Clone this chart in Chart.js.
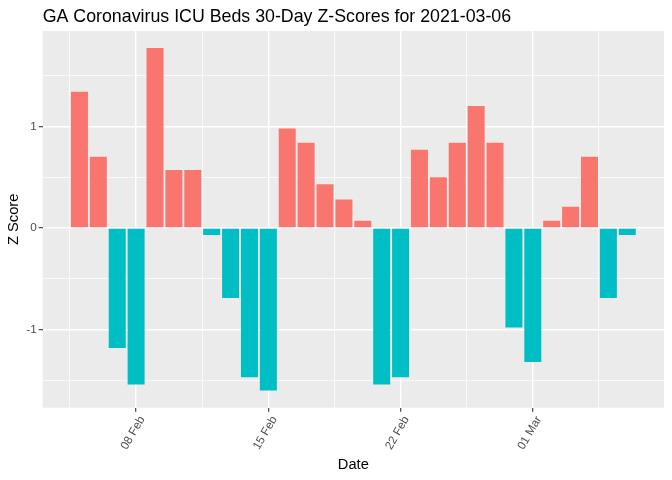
<!DOCTYPE html>
<html lang="en">
<head>
  <meta charset="UTF-8" />
  <title>GA Coronavirus ICU Beds Z-Scores</title>
  <style>
    * { margin: 0; padding: 0; box-sizing: border-box; }
    body { background: #fff; width: 672px; height: 480px; overflow: hidden; }
  </style>
</head>
<body>
  <canvas id="zChart" width="672" height="480"></canvas>
  <script src="https://cdn.jsdelivr.net/npm/chart.js"></script>
  <script>
    const dates = [
      '2021-02-05', '2021-02-06', '2021-02-07', '2021-02-08', '2021-02-09', '2021-02-10',
      '2021-02-11', '2021-02-12', '2021-02-13', '2021-02-14', '2021-02-15', '2021-02-16',
      '2021-02-17', '2021-02-18', '2021-02-19', '2021-02-20', '2021-02-21', '2021-02-22',
      '2021-02-23', '2021-02-24', '2021-02-25', '2021-02-26', '2021-02-27', '2021-02-28',
      '2021-03-01', '2021-03-02', '2021-03-03', '2021-03-04', '2021-03-05', '2021-03-06'
    ];
    const zScores = [
      1.34, 0.70, -1.18, -1.54, 1.77, 0.57,
      0.57, -0.07, -0.69, -1.47, -1.60, 0.98,
      0.84, 0.43, 0.28, 0.07, -1.54, -1.47,
      0.77, 0.50, 0.84, 1.20, 0.84, -0.98,
      -1.32, 0.07, 0.21, 0.70, -0.69, -0.07
    ];
    const tickDates = ['2021-02-08', '2021-02-15', '2021-02-22', '2021-03-01'];
    const tickLabels = ['08 Feb', '15 Feb', '22 Feb', '01 Mar'];
    const yTicks = [-1, 0, 1];
    const yMinor = [-1.5, -0.5, 0.5, 1.5];

    const titleText = 'GA Coronavirus ICU Beds 30-Day Z-Scores for 2021-03-06';
    const FONT = "'Liberation Sans', Arial, sans-serif";
    const DAY = 86400000;
    const toDay = s => Date.parse(s) / DAY;

    // ggplot style limits: bar half width 0.45, then 5% expansion
    const xs = dates.map(toDay);
    const xLo = Math.min(...xs) - 0.45, xHi = Math.max(...xs) + 0.45;
    const xPad = (xHi - xLo) * 0.05;
    const yLo = Math.min(0, ...zScores), yHi = Math.max(0, ...zScores);
    const yPad = (yHi - yLo) * 0.05;

    const majorX = tickDates.map(toDay);
    const minorX = majorX.map(v => v - 3.5).concat([majorX[majorX.length - 1] + 3.5]);

    const panelBg = {
      id: 'panelBg',
      beforeDraw(chart) {
        const { ctx, chartArea: a } = chart;
        ctx.save();
        ctx.fillStyle = '#ffffff';
        ctx.fillRect(0, 0, chart.width, chart.height);
        ctx.fillStyle = '#EBEBEB';
        ctx.fillRect(a.left, a.top, a.right - a.left, a.bottom - a.top);
        ctx.restore();
      },
      afterDraw(chart) {
        const { ctx, chartArea: a } = chart;
        ctx.save();
        ctx.fillStyle = '#000';
        ctx.font = '17.8px ' + FONT;
        ctx.textBaseline = 'alphabetic';
        ctx.fillText(titleText, a.left, 22.3);
        ctx.restore();
      }
    };

    const gridStyle = {
      offset: false,
      color: '#ffffff',
      lineWidth: c => (c.tick && c.tick.major ? 1.4 : 0.7),
      tickColor: c => (c.tick && c.tick.major ? '#333333' : 'rgba(0,0,0,0)'),
      tickWidth: 1.1,
      tickLength: 4
    };

    new Chart(document.getElementById('zChart'), {
      type: 'bar',
      data: {
        datasets: [{
          data: dates.map((d, i) => ({ x: toDay(d), y: zScores[i] })),
          backgroundColor: zScores.map(v => (v > 0 ? '#F8766D' : '#00BFC4')),
          borderWidth: 0,
          barPercentage: 0.9,
          categoryPercentage: 1.0
        }]
      },
      options: {
        responsive: false,
        animation: false,
        layout: { padding: { top: 31, right: 8, left: 0, bottom: 0 } },
        plugins: { legend: { display: false }, title: { display: false }, tooltip: { enabled: false } },
        scales: {
          x: {
            type: 'linear',
            offset: false,
            min: xLo - xPad,
            max: xHi + xPad,
            afterBuildTicks: s => {
              s.ticks = majorX.map(v => ({ value: v, major: true }))
                .concat(minorX.map(v => ({ value: v, major: false })))
                .sort((a, b) => a.value - b.value);
            },
            afterFit: s => { s.height = 72.3; },
            ticks: {
              autoSkip: false,
              minRotation: 60,
              maxRotation: 60,
              padding: 2,
              labelOffset: 6,
              color: '#4D4D4D',
              font: { family: FONT, size: 11.7 },
              callback: v => {
                const k = majorX.indexOf(v);
                return k >= 0 ? tickLabels[k] : '';
              }
            },
            grid: gridStyle,
            border: { display: false },
            title: {
              display: true,
              text: 'Date',
              color: '#000',
              font: { family: FONT, size: 14.7 },
              padding: { top: 0, bottom: 6 }
            }
          },
          y: {
            type: 'linear',
            min: yLo - yPad,
            max: yHi + yPad,
            afterBuildTicks: s => {
              s.ticks = yTicks.map(v => ({ value: v, major: true }))
                .concat(yMinor.map(v => ({ value: v, major: false })))
                .sort((a, b) => a.value - b.value);
            },
            afterFit: s => { s.width = 42.7; },
            ticks: {
              padding: 2,
              color: '#4D4D4D',
              font: { family: FONT, size: 11.7 },
              callback: v => (yTicks.includes(v) ? String(v) : '')
            },
            grid: gridStyle,
            border: { display: false },
            title: {
              display: true,
              text: 'Z Score',
              color: '#000',
              font: { family: FONT, size: 14.7 },
              padding: { top: 5, bottom: 0 }
            }
          }
        }
      },
      plugins: [panelBg]
    });
  </script>
</body>
</html>
